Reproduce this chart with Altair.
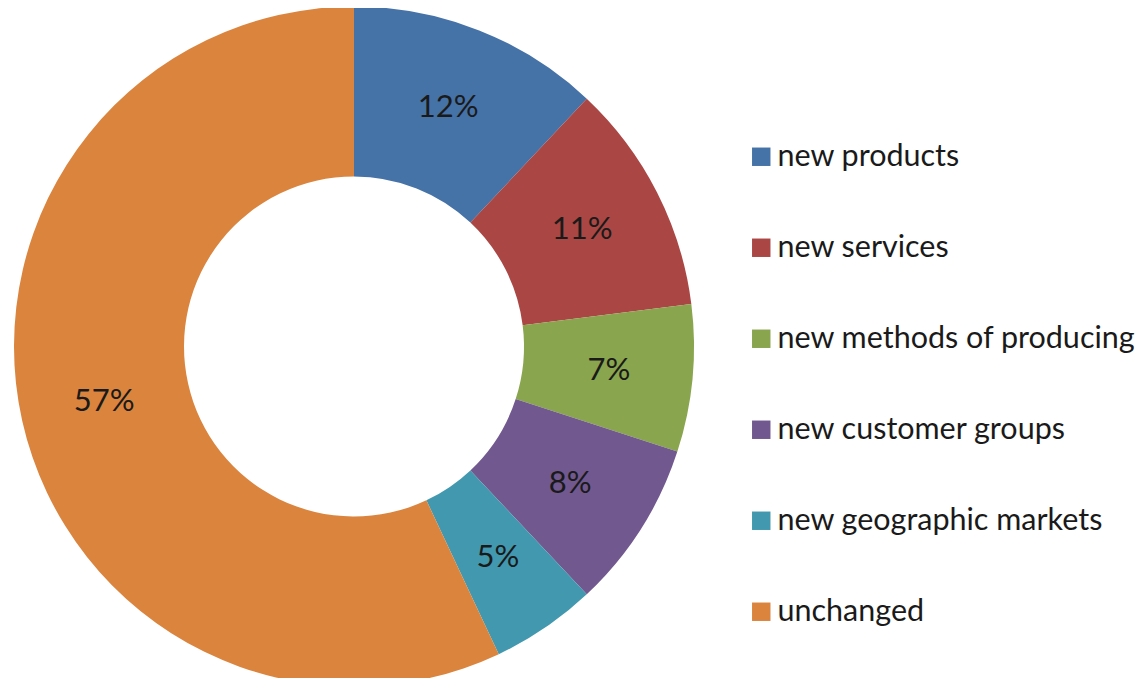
import altair as alt
import pandas as pd

categories = ["new products", "new services", "new methods of producing",
              "new customer groups", "new geographic markets", "unchanged"]
values = [12, 11, 7, 8, 5, 57]
labels = ["12%", "11%", "7%", "8%", "5%", "57%"]
colors = ["#4572A7", "#AA4643", "#89A54E", "#71588F", "#4198AF", "#DB843D"]

df = pd.DataFrame({"category": categories, "value": values, "label": labels,
                   "order": list(range(len(categories)))})

FONT = "Lato"

base = alt.Chart(df).encode(
    theta=alt.Theta("value:Q", stack=True),
    order=alt.Order("order:Q", sort="ascending"),
    x=alt.value(346),
    y=alt.value(338.5),
)

arcs = base.mark_arc(outerRadius=340, innerRadius=170, strokeWidth=0).encode(
    color=alt.Color(
        "category:N",
        scale=alt.Scale(domain=categories, range=colors),
        sort=categories,
        legend=alt.Legend(
            title=None,
            orient="none",
            legendX=738,
            legendY=133.5,
            symbolType="square",
            symbolSize=340,
            symbolStrokeWidth=0,
            labelFontSize=30.5,
            labelFont=FONT,
            labelColor="#1a1a1a",
            labelOffset=1,
            rowPadding=60,
            padding=0,
            labelLimit=500,
        ),
    )
)

text = base.mark_text(radius=256, fontSize=31, font=FONT, color="#1a1a1a").encode(
    text="label:N"
)

chart = (arcs + text).properties(
    width=1128, height=670, padding=0,
    autosize=alt.AutoSizeParams(type="none"),
).configure_view(stroke=None)

chart.save("out.html", embed_options={"renderer": "svg", "actions": False})
